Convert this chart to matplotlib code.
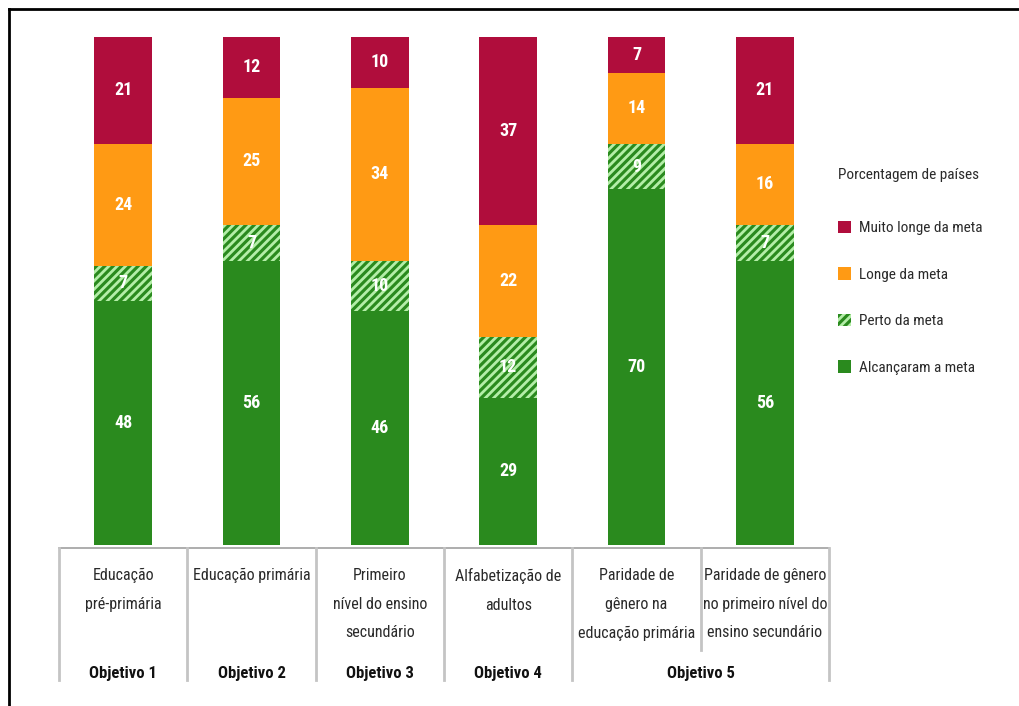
import numpy as np
import matplotlib.pyplot as plt
from matplotlib.patches import Patch
from matplotlib.lines import Line2D
from matplotlib.transforms import blended_transform_factory

plt.rcParams['font.family'] = ['Roboto Condensed', 'Liberation Sans Narrow', 'Lato', 'DejaVu Sans']
plt.rcParams['hatch.linewidth'] = 2.0

categories = ['Educação\npré-primária', 'Educação primária', 'Primeiro\nnível do ensino\nsecundário',
              'Alfabetização de\nadultos', 'Paridade de\ngênero na\neducação primária',
              'Paridade de gênero\nno primeiro nível do\nensino secundário']
objetivos = ['Objetivo 1', 'Objetivo 2', 'Objetivo 3', 'Objetivo 4', 'Objetivo 5']
alcancaram = [48, 56, 46, 29, 70, 56]
perto = [7, 7, 10, 12, 9, 7]
longe = [24, 25, 34, 22, 14, 16]
muito_longe = [21, 12, 10, 37, 7, 21]

c_green = '#2a8a1e'
c_light = '#b4eea8'
c_orange = '#ff9a14'
c_red = '#b00d3c'
c_text = '#2a2a2a'

fig = plt.figure(figsize=(10.19, 7.06), dpi=100)
ax = fig.add_axes([59 / 1019, 1 - 545 / 706, 770 / 1019, 508 / 706])

x = np.arange(len(categories))
w = 0.45
b1 = np.array(alcancaram)
b2 = b1 + np.array(perto)
b3 = b2 + np.array(longe)
ax.bar(x, alcancaram, w, color=c_green, linewidth=0)
ax.bar(x, perto, w, bottom=b1, color=c_green, edgecolor=c_light, hatch='////', linewidth=0)
ax.bar(x, longe, w, bottom=b2, color=c_orange, linewidth=0)
ax.bar(x, muito_longe, w, bottom=b3, color=c_red, linewidth=0)

for vals, bottoms in [(alcancaram, np.zeros(6)), (perto, b1), (longe, b2), (muito_longe, b3)]:
    for i, (v, b) in enumerate(zip(vals, bottoms)):
        ax.text(x[i], b + v / 2, str(v), ha='center', va='center', color='white',
                fontsize=13, fontweight='bold')

ax.set_xlim(-0.5, 5.5)
ax.set_ylim(0, 100)
ax.axis('off')

tr = blended_transform_factory(ax.transData, ax.transAxes)
ax.add_line(Line2D([-0.5, 5.5], [-0.006, -0.006], transform=tr, color='#a0a0a0', lw=1.2, clip_on=False))
for i, xs in enumerate(np.arange(-0.5, 6.0, 1.0)):
    y_end = -0.207 if i == 5 else -0.266
    ax.add_line(Line2D([xs, xs], [-0.006, y_end], transform=tr, color='#c4c4c4', lw=2, clip_on=False))

for i, lab in enumerate(categories):
    ax.text(x[i], -0.045, lab, transform=tr, ha='center', va='top', fontsize=11.5,
            color=c_text, linespacing=2.15)

obj_pos = [0, 1, 2, 3, 4.5]
for p, lab in zip(obj_pos, objetivos):
    ax.text(p, -0.252, lab, transform=tr, ha='center', va='center', fontsize=12,
            fontweight='bold', color='#111111')

handles = [Patch(facecolor=c_red, lw=0),
           Patch(facecolor=c_orange, lw=0),
           Patch(facecolor=c_green, edgecolor=c_light, hatch='////', lw=0),
           Patch(facecolor=c_green, lw=0)]
labels = ['Muito longe da meta', 'Longe da meta', 'Perto da meta', 'Alcançaram a meta']
leg = ax.legend(handles, labels, title='Porcentagem de países', loc='upper left',
                bbox_to_anchor=(1.012, 0.742), frameon=False, fontsize=11,
                title_fontsize=11, borderpad=0, borderaxespad=0,
                handlelength=0.85, handleheight=0.85, handletextpad=0.5,
                labelspacing=2.1, alignment='left')
leg.get_title().set_color(c_text)
for t in leg.get_texts():
    t.set_color(c_text)
leg._legend_box.sep = 28

# frame lines (top and left only)
fig.add_artist(Line2D([9 / 1019, 1], [1 - 9 / 706, 1 - 9 / 706], transform=fig.transFigure, color='black', lw=2))
fig.add_artist(Line2D([9 / 1019, 9 / 1019], [0, 1 - 9 / 706], transform=fig.transFigure, color='black', lw=2))

fig.savefig('out.png', dpi=100)
